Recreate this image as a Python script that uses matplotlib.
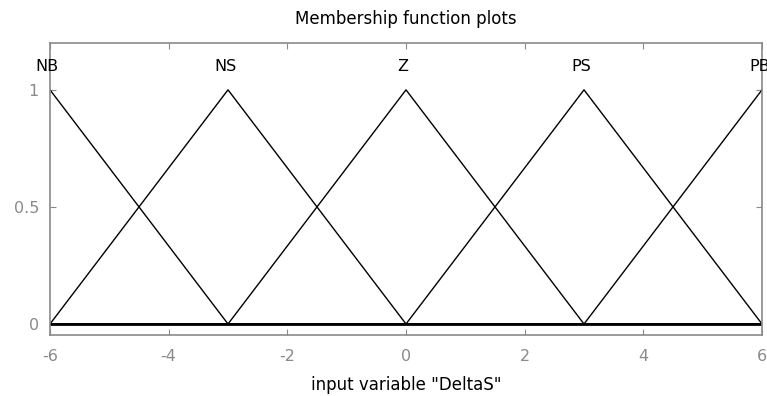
import matplotlib
matplotlib.use('Agg')
import matplotlib.pyplot as plt
import numpy as np

# triangular membership functions for "DeltaS": (left, peak, right)
mf_names = ['NB', 'NS', 'Z', 'PS', 'PB']
mf_params = [[-9, -6, -3], [-6, -3, 0], [-3, 0, 3], [0, 3, 6], [3, 6, 9]]
x_range = [-6, 6]
x_ticks = [-6, -4, -2, 0, 2, 4, 6]
y_ticks = [0, 0.5, 1]

GREY = '#8a8a8a'
FS = 11.5
plt.rcParams['font.family'] = ['DejaVu Sans']

fig = plt.figure(figsize=(7.67, 3.96), dpi=100)
ax = fig.add_axes([50 / 767, 1 - 335 / 396, 712 / 767, 292 / 396])

x = np.linspace(x_range[0], x_range[1], 1201)
for name, (a, b, c) in zip(mf_names, mf_params):
    y = np.maximum(np.minimum((x - a) / (b - a), (c - x) / (c - b)), 0)
    ax.plot(x, y, color='black', lw=1.0)
    t = ax.annotate(name, xy=(b, 1.1), xytext=(-2, 0), textcoords='offset points',
                    ha='center', va='center', fontsize=FS)
    # the label at the right edge gets cut by the axes box
    t.set_clip_on(b >= x_range[1])

ax.axhline(0, color='black', lw=2.0)

ax.set_xlim(*x_range)
ax.set_ylim(-0.047, 1.2)
ax.set_xticks(x_ticks)
ax.set_xticklabels([str(v) for v in x_ticks])
ax.set_yticks(y_ticks)
ax.set_yticklabels(['0', '0.5', '1'])
ax.tick_params(axis='x', pad=10)
ax.tick_params(axis='y', pad=8)
ax.tick_params(direction='in', length=4, color=GREY, labelcolor=GREY,
               labelsize=FS, top=True, right=True)
for sp in ax.spines.values():
    sp.set_color(GREY)
    sp.set_linewidth(1.2)

ax.set_title('Membership function plots', fontsize=12, pad=14)
ax.set_xlabel('input variable "DeltaS"', fontsize=12, labelpad=9)

fig.savefig('out.png', dpi=100)
